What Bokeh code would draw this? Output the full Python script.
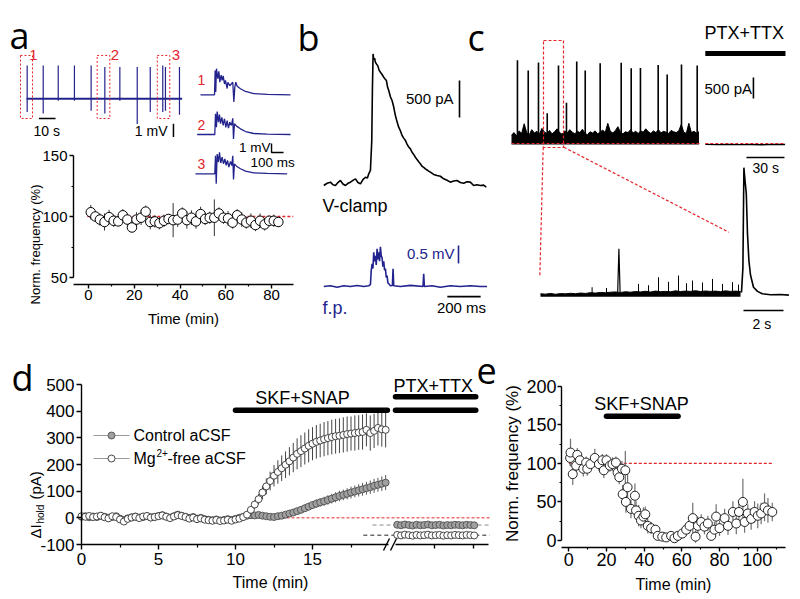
import numpy as np
from bokeh.plotting import figure
from bokeh.models import Range1d, LinearAxis, FixedTicker
from bokeh.embed import file_html
from bokeh.resources import INLINE
from bokeh.core.properties import value

# ======================= DATA =======================
# --- a: overview field-potential trace (time s, amplitude mV) ---
a_spike_t = [0.4, 10.0, 19.0, 28.7, 38.7, 46.9, 55.9, 66.3, 74.1, 81.6, 83.2, 91.6]
a_spike_up = [2.5, 2.5, 2.5, 2.5, 2.5, 2.4, 2.4, 2.4, 2.4, 2.5, 2.4, 2.4]
a_spike_down = [1.0, 1.1, 0.15, 0.15, 0.9, 1.1, 0.15, 1.9, 1.0, 1.0, 0.9, 1.2]
a_trace_end = 93.2
# --- a: expanded events 1-3 (ms, mV) ---
a_ev1_t = [0, 117, 122, 127, 133, 144, 153, 161, 172, 180, 189, 200, 208, 222, 228, 244, 256, 269, 278, 286, 294, 306, 333, 375, 444, 556, 750]
a_ev1_v = [0, 0, 2.7, 0.3, 2.9, 1.8, 2.6, 1.4, 2.2, 1.6, 2.1, 1.2, 1.6, 0.7, 1.4, 1.0, 1.2, 1.4, -0.8, 0.85, 1.4, 0.95, 0.67, 0.37, 0.14, 0.04, 0]
a_ev2_t = [-28, 119, 125, 133, 139, 150, 158, 167, 178, 189, 200, 211, 222, 233, 244, 258, 269, 275, 283, 300, 333, 375, 444, 556, 750]
a_ev2_v = [0, 0, 2.3, 0.8, 2.55, 1.37, 2.2, 1.2, 1.9, 1.0, 1.75, 0.8, 1.55, 0.7, 1.37, 1.0, 1.8, -0.5, 1.2, 0.93, 0.63, 0.33, 0.11, 0.04, 0]
a_ev3_t = [-42, 119, 125, 131, 139, 150, 158, 169, 180, 192, 203, 214, 225, 236, 250, 261, 269, 275, 283, 300, 333, 375, 444, 556, 722]
a_ev3_v = [0, 0, 2.0, -1.1, 2.2, 1.3, 2.4, 1.2, 1.85, 1.1, 1.67, 0.93, 1.48, 0.74, 1.37, 0.93, 2.0, -0.63, 1.1, 0.85, 0.56, 0.3, 0.11, 0.04, 0]
# --- a: normalized event frequency (min, %) ---
a_t = [1, 3, 5, 7, 9, 11, 13, 15, 17, 19, 21, 23, 25, 27, 29, 31, 33, 35, 37, 39, 41,
       43, 45, 47, 49, 51, 53, 55, 57, 59, 61, 63, 65, 67, 69, 71, 73, 75, 77, 79, 81, 83]
a_v = [103.5, 100, 97.5, 95.5, 99.5, 96.5, 96, 101, 97.5, 91, 97.5, 99, 104, 95.5, 96, 94.5, 96.5, 98, 97, 97.5,
       102.5, 97, 99, 96, 102, 98, 99, 99, 102.5, 99, 98.5, 95, 101, 97.5, 95, 96.5, 93, 96.5, 93.5, 96.5, 96.5, 95.5]
a_err = [6, 4, 5, 7, 6, 5, 4, 5, 5, 4, 6, 6, 5, 6, 5, 5, 5, 4, 14, 6,
         5, 7, 6, 6, 6, 5, 5, 15, 5, 5, 6, 5, 5, 6, 5, 6, 5, 6, 5, 4, 5, 4]

# --- b: voltage-clamp current (ms, pA) and field potential (ms, mV) ---
b_vc_t = [0, 20, 40, 55, 70, 85, 100, 115, 130, 145, 160, 175, 190, 205, 220, 235, 250, 262, 270, 280,
          288, 292, 296, 300, 305, 310, 317, 324, 332, 340, 350, 360, 368, 376, 383, 390, 400, 410, 420, 430,
          440, 450, 460, 470, 480, 490, 500, 510, 520, 530, 540, 550, 560, 570, 580, 590, 600, 610, 620, 630,
          640, 660, 680, 700, 720, 740, 760, 780, 800, 820, 840, 860, 880, 900, 920, 940, 960, 976]
b_vc_v = [0, 30, 45, 10, 0, 40, 68, 20, 0, 30, 45, 70, 90, 40, 23, 80, 112, 100, 158, 203,
          600, 1300, 1778, 1700, 1720, 1665, 1640, 1620, 1560, 1530, 1500, 1463, 1440, 1418, 1330, 1283, 1200, 1148, 1060, 945,
          860, 788, 740, 675, 640, 608, 560, 520, 495, 450, 420, 382, 350, 320, 293, 260, 245, 225, 210, 195,
          180, 150, 135, 125, 90, 70, 45, 60, 68, 40, 31, 50, 45, 0, 10, 0, 5, -23]
b_fp_t = [0, 40, 80, 120, 160, 200, 240, 270, 280, 285, 290, 295, 300, 305, 310, 315, 320, 325, 330, 335,
          340, 345, 350, 355, 360, 365, 370, 375, 380, 385, 390, 400, 412, 416, 420, 460, 520, 596, 600, 604,
          650, 700, 760, 820, 880, 940, 980]
b_fp_v = [0, 0.02, -0.02, 0.02, 0, 0.03, 0, 0.02, 0.05, 0.45, 0.63, 0.5, 0.95, 0.7, 0.85, 0.6, 1.05, 0.75, 0.95, 0.7,
          1.1, 0.85, 0.8, 0.55, 0.7, 0.45, 0.5, 0.25, 0.3, 0.1, 0.08, 0.02, 0.03, 0.49, 0.02, 0.0, 0.03, 0.0, 0.35, 0.0,
          0.02, -0.02, 0.02, 0.0, 0.02, 0.0, 0.0]

# --- c: whole-cell current (s, pA) ---
c_spike_t = [4.7, 13.2, 21.3, 28.2, 37.1, 43.4, 51.5, 58.2, 70.0, 86.6, 94.5, 101.8, 115.8, 122.9, 134.2, 146.6]
c_spike_amp = [1980, 1740, 1930, 720, 1860, 970, 1950, 1740, 1910, 1920, 1790, 1800, 1870, 1640, 1880, 1860]
c_env_t = list(range(0, 150, 2))
c_env = [200, 260, 180, 300, 240, 470, 260, 210, 330, 250, 290, 220, 360, 270, 240, 310, 230, 280, 350, 260,
         220, 300, 250, 330, 270, 230, 290, 260, 340, 240, 210, 280, 250, 300, 230, 270, 320, 260, 480, 290,
         250, 310, 400, 270, 230, 280, 260, 330, 250, 290, 240, 300, 270, 350, 280, 240, 300, 260, 330, 250,
         290, 270, 240, 310, 280, 260, 300, 450, 270, 240, 480, 260, 290, 250, 280]
c_ptx_t = [153, 162, 171, 180, 189, 198, 207, 216]
c_ptx_v = [-22, -27, -20, -26, -23, -28, -21, -25]
# --- c: expanded 12 s segment (s, pA) ---
cz_env_t = [0.0, 0.25, 0.5, 0.75, 1.0, 1.25, 1.5, 1.75, 2.0, 2.25, 2.5, 2.75, 3.0, 3.25, 3.5, 3.75, 4.0, 4.25, 4.5, 4.75,
            5.0, 5.25, 5.5, 5.75, 6.0, 6.25, 6.5, 6.75, 7.0, 7.25, 7.5, 7.75, 8.0, 8.25, 8.5, 8.75, 9.0, 9.25, 9.5, 9.75, 10.0]
cz_env = [25, 20, 30, 18, 28, 24, 32, 26, 36, 30, 42, 35, 45, 40, 48, 52, 44, 55, 48, 58,
          52, 62, 50, 65, 56, 60, 54, 68, 58, 64, 60, 70, 58, 66, 60, 64, 56, 68, 60, 64, 58]
cz_ev_t = [2.58, 3.3, 4.9, 5.4, 5.9, 6.4, 6.9, 7.3, 7.6, 8.1, 8.6, 9.1, 9.6, 9.9]
cz_ev_amp = [121, 110, 170, 150, 267, 200, 292, 180, 219, 190, 243, 170, 195, 160]
cz_small_t = [3.86, 3.92, 3.98]
cz_small_v = [50, 682, 50]
cz_big_t = [10.0, 10.05, 10.12, 10.17, 10.22, 10.29, 10.35, 10.42, 10.5, 10.65, 10.85, 11.09, 11.5, 12.0, 12.42]
cz_big_v = [60, 50, 400, 1869, 1700, 1489, 900, 511, 300, 121, 60, 25, 10, 15, 5]

# --- d: holding current (min, pA) ---
d_t = [i * 0.25 for i in range(80)]
d_mg = [6, 4, 7, 3, 5, 8, 2, -2, 6, 3, -6, -14, -4, 1, 4, -1, 5, 7, 1, 3,
        6, 9, 4, -1, 5, 10, 7, 3, -3, 1, -5, -2, -7, -9, -11, -8, -12, -10, -7, -11,
        -6, -3, 3, 12, 30, 50, 70, 95, 118, 138, 158, 172, 186, 199, 212, 226, 240, 250, 260, 270,
        278, 285, 290, 295, 299, 303, 306, 308, 311, 314, 316, 318, 320, 322, 330, 318, 326, 337, 332, 330]
d_mg_err = [6, 5, 7, 6, 5, 8, 6, 5, 7, 6, 6, 8, 5, 6, 7, 5, 6, 6, 5, 7,
            6, 7, 5, 6, 6, 8, 6, 5, 7, 6, 6, 5, 7, 6, 8, 6, 7, 6, 5, 7,
            6, 6, 7, 9, 12, 16, 20, 25, 30, 35, 40, 44, 48, 50, 53, 55, 58, 60, 60, 62,
            62, 63, 63, 64, 64, 65, 65, 65, 66, 66, 64, 66, 65, 66, 62, 66, 64, 66, 65, 66]
d_ctl = [4, 6, 2, 5, 3, 7, 4, 0, 3, 6, -3, -8, -2, 2, 5, 1, 3, 6, 2, 4,
         7, 10, 5, 1, 6, 12, 8, 4, -1, 3, -3, 0, -5, -7, -9, -6, -10, -8, -5, -8,
         -4, 0, 4, 8, 10, 9, 11, 8, 6, 4, 3, 6, 8, 12, 16, 20, 25, 30, 36, 42,
         48, 53, 58, 62, 67, 72, 77, 82, 86, 90, 95, 99, 103, 107, 111, 115, 120, 124, 128, 132]
d_ctl_err = [5, 6, 5, 4, 6, 5, 5, 6, 4, 5, 6, 5, 5, 4, 6, 5, 6, 5, 5, 4,
             6, 5, 5, 6, 4, 5, 6, 5, 5, 4, 6, 5, 5, 6, 5, 4, 6, 5, 5, 6,
             5, 4, 6, 5, 6, 5, 5, 6, 5, 6, 6, 7, 8, 9, 10, 11, 12, 13, 14, 14,
             15, 16, 16, 17, 18, 18, 19, 20, 20, 21, 22, 22, 23, 24, 24, 25, 26, 26, 27, 28]
d_post_t = [20.5 + i * 0.25 for i in range(21)]
d_post_ctl = [-26, -28, -25, -27, -29, -26, -28, -27, -25, -28, -27, -26, -29, -27, -28, -26, -27, -28, -26, -27, -28]
d_post_mg = [-64, -66, -63, -65, -67, -64, -66, -65, -63, -66, -65, -64, -67, -65, -66, -64, -65, -66, -64, -65, -66]
d_post_err = 8
d_skf = (10.0, 19.86)
d_ptx = (20.39, 25.6)

# --- e: normalized frequency (min, %) ---
e_t = [0.7, 0.9, 2.1, 3.9, 4.5, 5.9, 7.7, 9.2, 9.8, 11.5, 13.8, 16.0, 17.8, 18.6, 20.0, 21.8, 23.2, 25.0, 25.9, 26.8,
       28.2, 28.6, 30.0, 30.3, 31.2, 33.0, 35.1, 35.7, 37.1, 38.3, 39.6, 40.6, 41.9, 43.7, 46.0, 47.2, 49.6, 51.7, 54.3, 56.1,
       57.9, 60.2, 62.3, 64.1, 65.8, 67.3, 68.5, 70.3, 72.0, 73.8, 75.6, 77.3, 78.2, 80.0, 82.7, 84.5, 87.1, 88.9, 90.3, 92.4,
       93.3, 95.0, 96.8, 98.6, 100.3, 102.1, 103.9, 105.7, 108.0]
e_v = [107, 114, 86, 97, 111, 104, 93, 101, 93, 99, 107, 99, 104, 91, 104, 97, 99, 101, 88, 82,
       93, 60, 91, 50, 69, 41, 58, 39, 32, 26, 31, 34, 19, 16, 14, 6, 5, 4, 6, 3,
       6, 9, 14, 19, 29, 5, 19, 24, 18, 22, 6, 14, 31, 16, 29, 19, 37, 22, 37, 50,
       24, 35, 28, 37, 32, 35, 43, 39, 37]
e_err = [10, 18, 14, 10, 9, 8, 10, 8, 9, 7, 12, 9, 8, 10, 8, 8, 9, 8, 10, 9,
         10, 12, 25, 14, 18, 12, 16, 12, 14, 10, 12, 10, 10, 8, 6, 5, 4, 4, 5, 4,
         5, 6, 8, 10, 20, 8, 12, 10, 10, 10, 6, 10, 16, 10, 12, 12, 14, 14, 14, 30,
         14, 12, 14, 14, 16, 14, 18, 16, 12]
e_skf = (20, 58)

# ======================= STYLE / HELPERS =======================
CW, CH = 796, 595
FONT = "Liberation Sans"
LFONT = "Open Sans"
NAVY = "#23238e"
RED = "#e3242b"

# one canvas; page pixel coordinates (y downward) are the default ranges
p = figure(width=CW, height=CH, x_range=Range1d(0, CW), y_range=Range1d(CH, 0),
           x_axis_type=None, y_axis_type=None, output_backend="svg", toolbar_location=None,
           min_border_left=0, min_border_right=0, min_border_top=0, min_border_bottom=0,
           background_fill_color="white", border_fill_color="white", outline_line_color=None)

MAPS = {}


def sub(name, xref, yref):
    """register a panel coordinate system: xref=(px_a, val_a, px_b, val_b) etc."""
    def lin(p0, p1, r):
        pa, va, pb, vb = r
        s = (vb - va) / (pb - pa)
        return (va + (p0 - pa) * s, va + (p1 - pa) * s)
    p.extra_x_ranges[name + "x"] = Range1d(*lin(0, CW, xref))
    p.extra_y_ranges[name + "y"] = Range1d(*lin(CH, 0, yref))
    MAPS[name] = (xref, yref)
    return dict(x_range_name=name + "x", y_range_name=name + "y")


def val(r, px):
    pa, va, pb, vb = r
    return va + (px - pa) * (vb - va) / (pb - pa)


def add_axis(name, side, at_px, ticks, minor, size, bounds, label=None, label_size=16,
             standoff=2, label_standoff=5, tick_out=4, minor_out=2, show_labels=True):
    xref, yref = MAPS[name]
    loc = val(xref, at_px) if side == "left" else val(yref, at_px)
    ax = LinearAxis(ticker=FixedTicker(ticks=ticks, minor_ticks=minor),
                    x_range_name=name + "x", y_range_name=name + "y")
    ax.fixed_location = loc
    ax.bounds = bounds
    ax.major_label_overrides = {t: (f"{t:g}" if show_labels else "") for t in ticks}
    ax.axis_line_width = 1.4
    ax.major_tick_line_width = 1.4
    ax.minor_tick_line_width = 1.2
    ax.major_tick_in = 0
    ax.major_tick_out = tick_out
    ax.minor_tick_in = 0
    ax.minor_tick_out = minor_out
    ax.major_label_text_font = FONT
    ax.major_label_text_font_size = f"{size}px"
    ax.major_label_text_color = "black"
    ax.major_label_standoff = standoff
    if label:
        ax.axis_label = label
        ax.axis_label_text_font = FONT
        ax.axis_label_text_font_size = f"{label_size}px"
        ax.axis_label_text_font_style = "normal"
        ax.axis_label_text_color = "black"
        ax.axis_label_standoff = label_standoff
    p.add_layout(ax, side)
    return ax


def errbars(kw, x, y, e, color, width=1.0):
    x = np.asarray(x, float)
    y = np.asarray(y, float)
    e = np.asarray(e, float)
    p.segment(x0=x, y0=y - e, x1=x, y1=y + e, line_color=color, line_width=width, **kw)


# ======================= PANEL a =======================
A1 = sub("a1", (26, 0, 42.7, 10), (98.3, 0, 85.0, 1))
p.line([0, a_trace_end], [0, 0], line_color=NAVY, line_width=2.0, **A1)
p.segment(x0=a_spike_t, y0=[-d for d in a_spike_down], x1=a_spike_t, y1=a_spike_up,
          line_color=NAVY, line_width=1.2, **A1)
p.quad(left=[-3.6, 42.3, 78.3], right=[3.6, 49.9, 85.8], bottom=[-1.48] * 3, top=[3.26] * 3,
       fill_color=None, line_color=RED, line_dash="2 2", line_width=1.0, **A1)
p.line([7.4, 17.4], [-1.48, -1.48], line_color="black", line_width=1.5, **A1)
p.line([88.0, 88.0], [-1.88, -2.88], line_color="black", line_width=1.5, **A1)

A2 = sub("a2", (200, 0, 212, 100), (94.3, 0, 85.3, 1))
off2, off3 = -4.41, -8.78
p.line(a_ev1_t, a_ev1_v, line_color=NAVY, line_width=1.3, **A2)
p.line(a_ev2_t, [v + off2 for v in a_ev2_v], line_color=NAVY, line_width=1.3, **A2)
p.line(a_ev3_t, [v + off3 for v in a_ev3_v], line_color=NAVY, line_width=1.3, **A2)
p.line([592, 592, 692], [-5.41, -6.41, -6.41], line_color="black", line_width=1.4, **A2)

A3 = sub("a3", (88, 0, 271, 80), (216, 100, 155, 150))
add_axis("a3", "left", 73, [50, 100, 150], [75, 125], 15, (50, 150), standoff=2)
add_axis("a3", "below", 284, [0, 20, 40, 60, 80], [10, 30, 50, 70], 15,
         (val(MAPS["a3"][0], 73), val(MAPS["a3"][0], 293)),
         label="Time (min)", label_size=15, standoff=1, label_standoff=7)
p.line([-0.5, 89.5], [100, 100], line_color=RED, line_dash="3 2", line_width=1.3, **A3)
errbars(A3, a_t, a_v, a_err, "#333333", 1.0)
p.scatter(a_t, a_v, size=9.5, fill_color="white", line_color="black", line_width=1.0, **A3)

# ======================= PANEL b =======================
B1 = sub("b1", (323.3, 0, 356.6, 200), (185, 0, 148, 500))
p.line(b_vc_t, b_vc_v, line_color="black", line_width=1.6, **B1)
p.line([815, 815], [919, 1419], line_color="black", line_width=1.6, **B1)

B2 = sub("b2", (323.3, 0, 356.6, 200), (286, 0, 268, 0.5))
p.line(b_fp_t, b_fp_v, line_color=NAVY, line_width=1.6, **B2)
p.line([809, 809], [0.64, 1.14], line_color=NAVY, line_width=1.6, **B2)
p.line([742, 942], [-0.28, -0.28], line_color="black", line_width=1.6, **B2)

# ======================= PANEL c =======================
C1 = sub("c1", (511, 0, 549, 30), (143, 0, 122, 500))
p.varea(x=c_env_t, y1=[-25] * len(c_env_t), y2=c_env, fill_color="black", **C1)
p.line(c_env_t, c_env, line_color="black", line_width=1.0, **C1)
p.segment(x0=c_spike_t, y0=[0] * len(c_spike_t), x1=c_spike_t, y1=c_spike_amp,
          line_color="black", line_width=1.6, **C1)
p.line([0, 148.8], [0, 0], line_color=RED, line_dash="3 2", line_width=1.2, **C1)
p.line(c_ptx_t, c_ptx_v, line_color="black", line_width=1.4, **C1)
p.line([153, 216.3], [0, 0], line_color=RED, line_dash="3 2", line_width=1.2, **C1)
p.line([153, 216.3], [2142, 2142], line_color="black", line_width=5, **C1)
p.line([191, 191], [1071, 1571], line_color="black", line_width=1.6, **C1)
p.line([185.5, 215.5], [-333, -333], line_color="black", line_width=1.6, **C1)

C2 = sub("c2", (540, 0, 580, 2), (295, 0, 260.8, 500))
p.varea(x=cz_env_t, y1=[-20] * len(cz_env_t), y2=cz_env, fill_color="black", **C2)
p.line(cz_env_t, cz_env, line_color="black", line_width=1.0, **C2)
p.segment(x0=cz_ev_t, y0=[0] * len(cz_ev_t), x1=cz_ev_t, y1=cz_ev_amp, line_color="black", line_width=1.0, **C2)
p.line(cz_small_t, cz_small_v, line_color="black", line_width=1.2, **C2)
p.line(cz_big_t, cz_big_v, line_color="black", line_width=1.6, **C2)
p.line([10.15, 12.15], [-219, -219], line_color="black", line_width=1.6, **C2)

# ======================= PANEL d =======================
D = sub("d", (81, 0, 312, 15), (544, -100, 384, 500))
add_axis("d", "left", 81, [-100, 0, 100, 200, 300, 400, 500], [], 17, (-100, 500), standoff=2, tick_out=5)
add_axis("d", "below", 544, [0, 5, 10, 15], [2.5, 7.5, 12.5, 17.5], 17, (0, 19.94), standoff=3,
         tick_out=5, minor_out=3)
add_axis("d", "below", 544, [22.9, 25.45], [], 17, (20.39, 26.43), standoff=3, tick_out=4,
         show_labels=False)
p.line([0, 26.5], [0, 0], line_color=RED, line_dash="3 2", line_width=1.0, **D)
m_ctl = float(np.mean(d_post_ctl))
m_mg = float(np.mean(d_post_mg))
p.line([18.9, 26.5], [m_ctl, m_ctl], line_color="#8a8a8a", line_dash="4 3", line_width=1.0, **D)
p.line([18.3, 26.5], [m_mg, m_mg], line_color="#222222", line_dash="4 3", line_width=1.0, **D)
errbars(D, d_t, d_ctl, d_ctl_err, "#555555", 1.0)
p.scatter(d_t, d_ctl, size=7, fill_color="#a0a0a0", line_color="#505050", line_width=0.9, **D)
errbars(D, d_t, d_mg, d_mg_err, "#444444", 1.0)
p.scatter(d_t, d_mg, size=7, fill_color="white", line_color="#333333", line_width=0.9, **D)
errbars(D, d_post_t, d_post_ctl, [d_post_err] * len(d_post_t), "#555555", 1.0)
p.scatter(d_post_t, d_post_ctl, size=7, fill_color="#a0a0a0", line_color="#505050", line_width=0.9, **D)
errbars(D, d_post_t, d_post_mg, [d_post_err] * len(d_post_t), "#444444", 1.0)
p.scatter(d_post_t, d_post_mg, size=7, fill_color="white", line_color="#333333", line_width=0.9, **D)
p.line(list(d_skf), [403, 403], line_color="black", line_width=5.5, line_cap="round", **D)
p.line(list(d_ptx), [403, 403], line_color="black", line_width=5.5, line_cap="round", **D)
p.line(list(d_ptx), [454, 454], line_color="black", line_width=5.5, line_cap="round", **D)

# ======================= PANEL e =======================
E = sub("e", (568.3, 0, 756.7, 100), (540, 0, 385.7, 200))
add_axis("e", "left", 561, [0, 50, 100, 150, 200], [25, 75, 125, 175], 18, (0, 200), standoff=1,
         label="Norm. frequency (%)", label_size=17, label_standoff=1)
add_axis("e", "below", 546.7, [0, 20, 40, 60, 80, 100], [10, 30, 50, 70, 90, 110], 18,
         (val(MAPS["e"][0], 561), val(MAPS["e"][0], 785)), standoff=2,
         label="Time (min)", label_size=16, label_standoff=6)
p.line([0, 108.5], [100, 100], line_color=RED, line_dash="3 2", line_width=1.3, **E)
errbars(E, e_t, e_v, e_err, "#707070", 1.2)
p.scatter(e_t, e_v, size=9, fill_color="white", line_color="#222222", line_width=1.0, **E)
p.line(list(e_skf), [161, 161], line_color="black", line_width=5.5, line_cap="round", **E)


# ======================= TEXTS (page pixel coordinates) =======================
def txt(x, y, s, size, color="black", align="left", baseline="middle", font=FONT, angle=0.0):
    p.text(x=[x], y=[y], text=[s], text_font=value(font), text_font_size=f"{size}px",
           text_color=color, text_align=align, text_baseline=baseline, angle=angle)


for s, x, y in [("a", 9, 35), ("b", 297, 37), ("c", 467, 37), ("d", 11, 377), ("e", 476, 370)]:
    txt(x, y, s, 36, baseline="alphabetic", font=LFONT)

# a
for s, x in [("1", 33), ("2", 114.5), ("3", 175.3)]:
    txt(x, 54.5, s, 15, color=RED, align="center")
for s, y in [("1", 79), ("2", 124.5), ("3", 163.5)]:
    txt(201, y, s, 14, color=RED, align="center")
txt(33, 130, "10 s", 14)
txt(167, 130, "1 mV", 14, align="right")
txt(270, 147, "1 mV", 13.5, align="right")
txt(250, 162, "100 ms", 13.5)
txt(35, 244, "Norm. frequency (%)", 13, align="center", angle=np.pi / 2)

# b
txt(453, 98, "500 pA", 15, align="right")
txt(322, 205, "V-clamp", 18)
txt(454, 253, "0.5 mV", 15, color=NAVY, align="right")
txt(322, 307, "f.p.", 18, color=NAVY)
txt(461, 307, "200 ms", 15, align="center")

# c
txt(704, 32, "PTX+TTX", 18)
txt(704, 88, "500 pA", 15)
txt(752, 167, "30 s", 14)
txt(752, 323, "2 s", 14)
p.quad(left=[543], right=[563], top=[40], bottom=[147], fill_color=None, line_color=RED,
       line_dash="3 2", line_width=1.2)
p.line([563.3, 728.3], [146.7, 231.7], line_color=RED, line_dash="3 2", line_width=1.2)
p.line([542.7, 539.3], [146.7, 276.7], line_color=RED, line_dash="3 2", line_width=1.2)

# d
txt(302, 397, "SKF+SNAP", 18, align="center")
txt(393, 385, "PTX+TTX", 18)
p.line([93, 129], [435, 435], line_color="#9a9a9a", line_width=1.0)
p.scatter([111], [435], size=7, fill_color="#a0a0a0", line_color="#505050", line_width=0.9)
p.line([93, 129], [458, 458], line_color="#9a9a9a", line_width=1.0)
p.scatter([111], [458], size=7, fill_color="white", line_color="#333333", line_width=0.9)
txt(133, 435, "Control aCSF", 16)
txt(133, 458, "Mg", 16)
txt(156, 452, "2+", 10)
txt(167, 458, "-free aCSF", 16)
txt(270, 582, "Time (min)", 16, align="center")
txt(35, 538, "\u0394I", 15, align="left", angle=np.pi / 2)
txt(39.5, 523, "hold", 10, align="left", angle=np.pi / 2)
txt(35, 499, "(pA)", 15, align="left", angle=np.pi / 2)
p.segment(x0=[383, 390], y0=[550, 550], x1=[389, 396], y1=[538, 538], line_color="black", line_width=1.4)

# e
txt(641, 403, "SKF+SNAP", 18, align="center")

open("out.html", "w").write(file_html(p, INLINE))
